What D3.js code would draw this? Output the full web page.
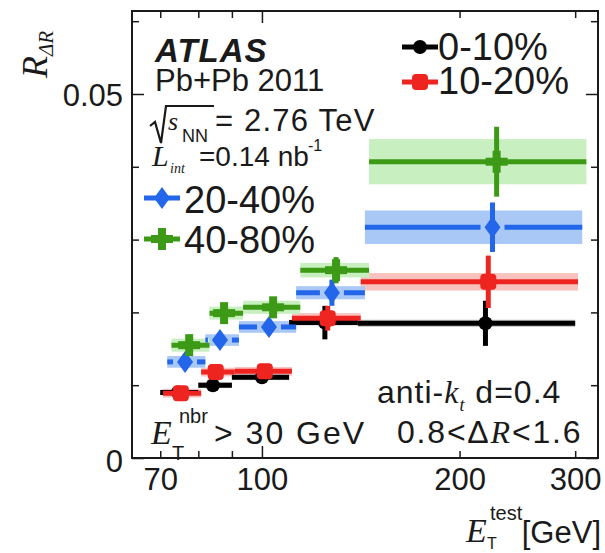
<!DOCTYPE html>
<html>
<head>
<meta charset="utf-8">
<script src="https://cdn.jsdelivr.net/npm/d3@7"></script>
<style>
body { margin: 0; background: #fff; }
svg { display: block; }
text { font-family: "Liberation Sans", Arial, sans-serif; fill: #1a1a1a; }
.serif { font-family: "Liberation Serif", "Times New Roman", serif; font-style: italic; }
</style>
</head>
<body>
<svg id="chart" width="605" height="553"></svg>
<script>
// bins in E_T^test [GeV]
const binEdges = [70, 80, 90, 110, 140, 300];
const binCenters = [74.5, 84.2, 100, 124.7, 219];

const centralities = ["0-10%", "10-20%", "20-40%", "40-80%"];
// small horizontal offsets between centralities (multiplicative, as in the plot)
const shifts = [1.0, 1.01, 1.025, 1.04];

const r0_10  = [0.0090, 0.0100, 0.0111, 0.0186, 0.0185];
const r10_20 = [0.0089, 0.0118, 0.0119, 0.0192, 0.0242];
const r20_40 = [0.0132, 0.0162, 0.0180, 0.0227, 0.0317];
const r40_80 = [0.0155, 0.0199, 0.0207, 0.0258, 0.0407];

const stat0_10  = [0.0006, 0.0007, 0.0008, 0.0023, 0.0031];
const stat10_20 = [0.0006, 0.0007, 0.0008, 0.0017, 0.0036];
const stat20_40 = [0.0008, 0.0009, 0.0010, 0.0018, 0.0034];
const stat40_80 = [0.0008, 0.0010, 0.0011, 0.0018, 0.0048];

const sys0_10  = [0.0004, 0.0004, 0.0004, 0.0004, 0.0005];
const sys10_20 = [0.0006, 0.0006, 0.0006, 0.0007, 0.0012];
const sys20_40 = [0.0008, 0.0008, 0.0008, 0.0009, 0.0023];
const sys40_80 = [0.0009, 0.0009, 0.0009, 0.0010, 0.0031];

const xTicks = [70, 80, 90, 100, 200, 300];
const xLabels = [70, 100, 200, 300];
const yTicks = [0, 0.01, 0.02, 0.03, 0.04, 0.05, 0.06];
const yLabels = [0, 0.05];

const lineColors = ["#000000", "#ee2420", "#2466ea", "#3c9a16"];
const bandColors = ["#c9c9c9", "#f8c2bf", "#a9c8f6", "#c8efc0"];
const shapes = ["circle", "square", "diamond", "cross"];

const values = [r0_10, r10_20, r20_40, r40_80];
const stats = [stat0_10, stat10_20, stat20_40, stat40_80];
const systs = [sys0_10, sys10_20, sys20_40, sys40_80];

const series = centralities.map((name, i) => ({
  name: name, shift: shifts[i], color: lineColors[i], band: bandColors[i], shape: shapes[i],
  points: values[i].map((v, j) => ({
    lo: binEdges[j], hi: binEdges[j + 1], c: binCenters[j], v: v, stat: stats[i][j], sys: systs[i][j]
  }))
}));

const svg = d3.select("#chart");
const plotL = 132, plotR = 598, plotT = 11, plotB = 458;

let x = d3.scaleLog().domain([63.4, 325]).range([plotL, plotR]);
let y = d3.scaleLinear().domain([0, 0.0614]).range([plotB, plotT]);

// ---- bands (systematics)
series.forEach(s => {
  svg.append("g").selectAll("rect")
    .data(s.points)
    .enter()
    .append("rect")
    .attr("x", d => x(d.lo * s.shift))
    .attr("width", d => x(d.hi * s.shift) - x(d.lo * s.shift))
    .attr("y", d => y(d.v + d.sys))
    .attr("height", d => y(d.v - d.sys) - y(d.v + d.sys))
    .attr("fill", s.band);
});

function drawMarker(g, shape, cx, cy, color) {
  if (shape == "circle") {
    g.append("circle").attr("cx", cx).attr("cy", cy).attr("r", 7).attr("fill", color);
  } else if (shape == "square") {
    g.append("rect").attr("x", cx - 8).attr("y", cy - 8).attr("width", 16).attr("height", 16)
      .attr("rx", 4).attr("fill", color);
  } else if (shape == "diamond") {
    g.append("path").attr("d", `M${cx},${cy - 11}L${cx + 8},${cy}L${cx},${cy + 11}L${cx - 8},${cy}Z`)
      .attr("fill", color);
  } else {
    g.append("rect").attr("x", cx - 11).attr("y", cy - 4).attr("width", 22).attr("height", 8).attr("fill", color);
    g.append("rect").attr("x", cx - 4).attr("y", cy - 11).attr("width", 8).attr("height", 22).attr("fill", color);
  }
}

// ---- error bars + markers
series.forEach(s => {
  let g = svg.append("g");
  s.points.forEach(d => {
    let x0 = x(d.lo * s.shift), x1 = x(d.hi * s.shift), cx = x(d.c * s.shift), cy = y(d.v);
    if (s.shape == "diamond") {
      g.append("line").attr("x1", x0).attr("x2", cx - 12).attr("y1", cy).attr("y2", cy)
        .attr("stroke", s.color).attr("stroke-width", 5);
      g.append("line").attr("x1", cx + 12).attr("x2", x1).attr("y1", cy).attr("y2", cy)
        .attr("stroke", s.color).attr("stroke-width", 5);
    } else {
      g.append("line").attr("x1", x0).attr("x2", x1).attr("y1", cy).attr("y2", cy)
        .attr("stroke", s.color).attr("stroke-width", 5);
    }
    g.append("line").attr("x1", cx).attr("x2", cx)
      .attr("y1", y(d.v + d.stat)).attr("y2", y(d.v - d.stat))
      .attr("stroke", s.color).attr("stroke-width", 5);
    drawMarker(g, s.shape, cx, cy, s.color);
  });
});

// ---- frame and axes (ticks point inward)
svg.append("rect").attr("x", plotL).attr("y", plotT).attr("width", plotR - plotL).attr("height", plotB - plotT)
  .attr("fill", "none").attr("stroke", "#1a1a1a").attr("stroke-width", 2);

function tickLen(d) { return (d == 100 || d == 0 || d == 0.05) ? 12 : 7; }

let axB = svg.append("g").attr("transform", `translate(0,${plotB})`)
  .call(d3.axisBottom(x).tickValues(xTicks).tickSize(-7).tickFormat(""));
axB.selectAll(".tick line").attr("y2", d => -tickLen(d));
let axT = svg.append("g").attr("transform", `translate(0,${plotT})`)
  .call(d3.axisTop(x).tickValues(xTicks).tickSize(-7).tickFormat(""));
axT.selectAll(".tick line").attr("y2", d => tickLen(d));
let axL = svg.append("g").attr("transform", `translate(${plotL},0)`)
  .call(d3.axisLeft(y).tickValues(yTicks).tickSize(-7).tickFormat(""));
axL.selectAll(".tick line").attr("x2", d => tickLen(d));
let axR = svg.append("g").attr("transform", `translate(${plotR},0)`)
  .call(d3.axisRight(y).tickValues(yTicks).tickSize(-7).tickFormat(""));
axR.selectAll(".tick line").attr("x2", d => -tickLen(d));
[axB, axT, axL, axR].forEach(a => {
  a.select(".domain").remove();
  a.selectAll(".tick line").attr("stroke", "#1a1a1a").attr("stroke-width", 1.5);
});

let labB = svg.append("g").attr("transform", `translate(0,${plotB})`)
  .call(d3.axisBottom(x).tickValues(xLabels).tickSize(0).tickFormat(d3.format("d")));
labB.select(".domain").remove();
labB.selectAll("text").attr("y", 32).attr("dy", null).attr("font-size", 31)
  .attr("font-family", "Liberation Sans, Arial, sans-serif").attr("fill", "#1a1a1a");

let labL = svg.append("g").attr("transform", `translate(${plotL},0)`)
  .call(d3.axisLeft(y).tickValues(yLabels).tickSize(0).tickFormat(d => d == 0 ? "0" : "0.05"));
labL.select(".domain").remove();
labL.selectAll("text").attr("x", -9).attr("dy", "0.36em").attr("font-size", 31)
  .attr("font-family", "Liberation Sans, Arial, sans-serif").attr("fill", "#1a1a1a");
labL.selectAll(".tick").filter(d => d == 0).select("text").attr("dy", "0.45em");

// ---- axis titles
let yt = svg.append("text").attr("transform", "translate(47,78) rotate(-90)");
yt.append("tspan").attr("class", "serif").attr("font-size", 36).text("R");
yt.append("tspan").attr("class", "serif").attr("font-size", 21).attr("dy", 6).text("ΔR");

svg.append("text").attr("x", 466).attr("y", 542).attr("class", "serif").attr("font-size", 34).text("E");
svg.append("text").attr("x", 490).attr("y", 520).attr("font-size", 20).text("test");
svg.append("text").attr("x", 487).attr("y", 549).attr("font-size", 16).text("T");
svg.append("text").attr("x", 601).attr("y", 543).attr("text-anchor", "end").attr("font-size", 31).text("[GeV]");

// ---- ATLAS labels
svg.append("text").attr("x", 155).attr("y", 62).attr("font-size", 33).attr("font-weight", "bold")
  .attr("font-style", "italic").attr("letter-spacing", 1).text("ATLAS");
svg.append("text").attr("x", 155).attr("y", 91).attr("font-size", 31).text("Pb+Pb 2011");

svg.append("path").attr("d", "M150,126L155,122L161,143L166,106L214,106")
  .attr("fill", "none").attr("stroke", "#1a1a1a").attr("stroke-width", 2.2);
svg.append("text").attr("x", 168).attr("y", 130).attr("class", "serif").attr("font-size", 26).text("s");
svg.append("text").attr("x", 182).attr("y", 142).attr("font-size", 18).text("NN");
svg.append("text").attr("x", 215).attr("y", 131).attr("font-size", 31).attr("letter-spacing", 1.2).text("= 2.76 TeV");

svg.append("text").attr("x", 152).attr("y", 166).attr("class", "serif").attr("font-size", 30).text("L");
svg.append("text").attr("x", 170).attr("y", 173).attr("class", "serif").attr("font-size", 14).text("int");
svg.append("text").attr("x", 199).attr("y", 166).attr("font-size", 28).text("=0.14 nb");
svg.append("text").attr("x", 308).attr("y", 151).attr("font-size", 16).text("-1");

// ---- legend
const legendPos = [[420, 47, 438, 60], [420, 82, 438, 94], [162, 198, 184, 213], [162, 239, 184, 253]];
series.forEach((s, i) => {
  let p = legendPos[i];
  let g = svg.append("g");
  g.append("line").attr("x1", p[0] - 18).attr("x2", p[0] + 18).attr("y1", p[1]).attr("y2", p[1])
    .attr("stroke", s.color).attr("stroke-width", 5);
  drawMarker(g, s.shape, p[0], p[1], s.color);
  svg.append("text").attr("x", p[2]).attr("y", p[3]).attr("font-size", 38).text(s.name);
});

// ---- cuts
svg.append("text").attr("x", 151).attr("y", 444).attr("class", "serif").attr("font-size", 34).text("E");
svg.append("text").attr("x", 179).attr("y", 423).attr("font-size", 20).text("nbr");
svg.append("text").attr("x", 172).attr("y", 460).attr("font-size", 20).text("T");
svg.append("text").attr("x", 214).attr("y", 444).attr("font-size", 32).attr("letter-spacing", 2).text("> 30 GeV");

let ak = svg.append("text").attr("x", 377).attr("y", 403).attr("font-size", 32).attr("letter-spacing", 1);
ak.append("tspan").text("anti-");
ak.append("tspan").attr("class", "serif").text("k");
ak.append("tspan").attr("class", "serif").attr("font-size", 18).attr("dy", 8).text("t");
ak.append("tspan").attr("dy", -8).text(" d=0.4");

let dr = svg.append("text").attr("x", 397).attr("y", 443).attr("font-size", 32).attr("letter-spacing", 1.8);
dr.append("tspan").text("0.8<Δ");
dr.append("tspan").attr("class", "serif").text("R");
dr.append("tspan").text("<1.6");
</script>
</body>
</html>
